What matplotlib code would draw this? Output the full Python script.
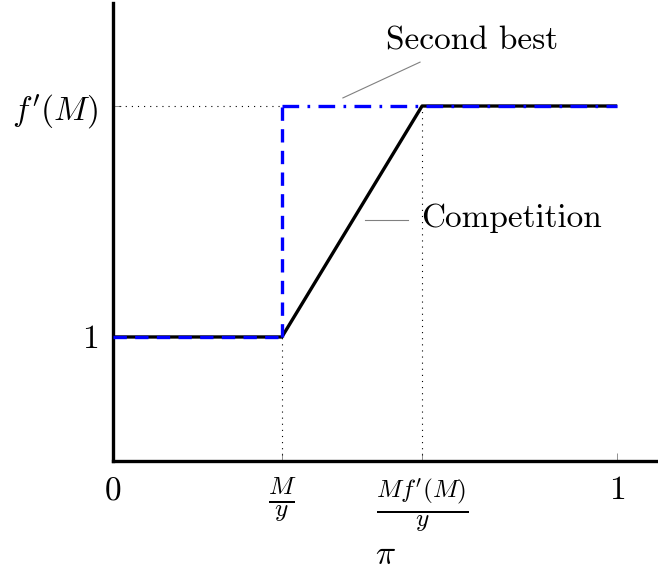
import matplotlib
matplotlib.use("Agg")
import matplotlib.pyplot as plt

plt.rcParams['font.family'] = 'serif'
plt.rcParams['font.serif'] = ['cmr10']
plt.rcParams['mathtext.fontset'] = 'cm'
plt.rcParams['axes.formatter.use_mathtext'] = True

# Data
pi_low = 0.335      # M/y
pi_high = 0.613     # M f'(M) / y
f_prime = 2.0       # f'(M)
competition_x = [0.0, pi_low, pi_high, 1.0]
competition_y = [1.0, 1.0, f_prime, f_prime]
sb_low_x = [0.0, pi_low]
sb_low_y = [1.0, 1.0]
sb_jump_x = [pi_low, pi_low]
sb_jump_y = [1.0, f_prime]
sb_high_x = [pi_low, 1.0]
sb_high_y = [f_prime, f_prime]
xtick_vals = [0.0, pi_low, pi_high, 1.0]
xtick_labels = ['$0$', r'$\frac{M}{y}$', r"$\frac{Mf'(M)}{y}$", '$1$']
ytick_vals = [1.0, f_prime]
ytick_labels = ['$1$', "$f'(M)$"]

fig = plt.figure(figsize=(6.58, 5.72), dpi=100)
ax = fig.add_axes([113/658, 111/572, 545/658, 458/572])
ax.set_xlim(0, 1.081)
ax.set_ylim(0.463, 2.446)

# dotted guides
dot = dict(color='black', lw=0.8, ls=(0, (1, 4.5)))
ax.plot([0, pi_low], [f_prime, f_prime], **dot)
ax.plot([pi_low, pi_low], [0.463, 1.0], **dot)
ax.plot([pi_high, pi_high], [0.463, f_prime], **dot)

# competition
ax.plot(competition_x, competition_y, color='black', lw=2.4, solid_capstyle='butt', zorder=3)
# second best
ax.plot(sb_low_x, sb_low_y, color='#0000ff', lw=2.4, ls=(0, (4, 2.5)), zorder=4)
ax.plot(sb_jump_x, sb_jump_y, color='#0000ff', lw=2.4, ls=(0, (4, 2.5)), zorder=4)
ax.plot(sb_high_x, sb_high_y, color='#0000ff', lw=2.4, ls=(0, (5, 2.5, 0.8, 2.5)), zorder=4)

# annotations
ax.plot([0.456, 0.609], [2.035, 2.19], color='gray', lw=0.8)
ax.text(0.712, 2.28, 'Second best', fontsize=24, ha='center', va='center')
ax.plot([0.5, 0.585], [1.506, 1.506], color='gray', lw=0.8)
ax.text(0.611, 1.513, 'Competition', fontsize=24, ha='left', va='center')

# spines
for s in ['top', 'right']:
    ax.spines[s].set_visible(False)
ax.spines['left'].set_linewidth(2.4)
ax.spines['bottom'].set_linewidth(2.4)

ax.set_xticks(xtick_vals)
ax.set_xticklabels(xtick_labels)
ax.set_yticks(ytick_vals)
ax.set_yticklabels(ytick_labels)
ax.tick_params(axis='both', direction='in', length=6, width=0.6, color='gray',
               labelsize=24, pad=11)
for lbl in ax.get_xticklabels()[1:3]:
    lbl.set_fontsize(26)

ax.set_xlabel(r'$\pi$', fontsize=24, labelpad=5)

fig.savefig('out.png', dpi=100)
